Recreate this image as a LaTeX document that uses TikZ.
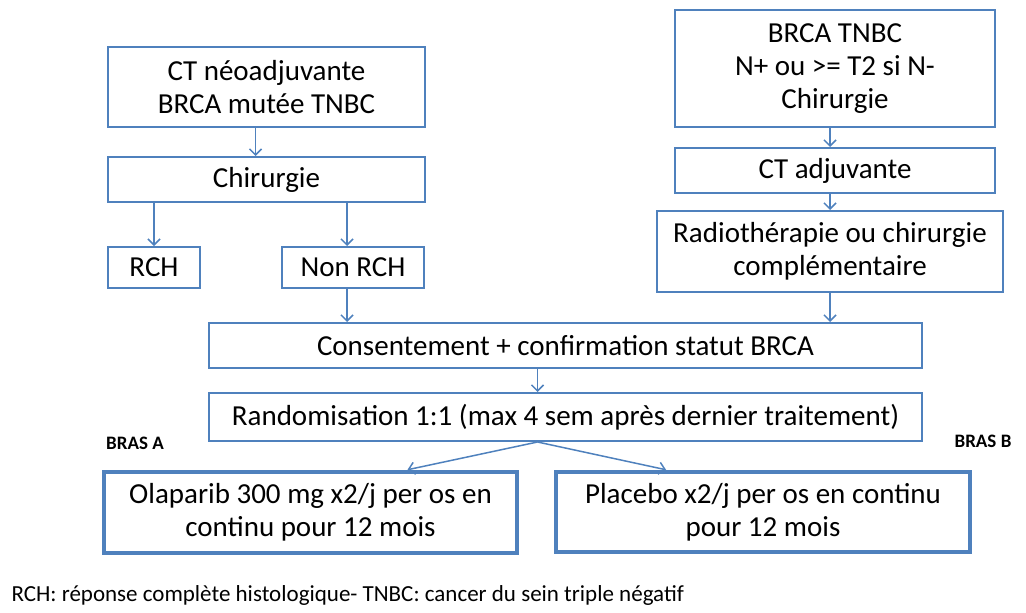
\documentclass[tikz,border=0pt]{standalone}
\usepackage{fontspec}
\setmainfont{Carlito}
\usepackage{xcolor}
\usetikzlibrary{arrows.meta, calc}

\definecolor{officeBlue}{HTML}{4F81BD}

\begin{document}
\begin{tikzpicture}[x = 1pt, y = -1pt,
		stepBox/.style = {draw = officeBlue, line width = 2pt, align = center, inner sep = 0pt, font = \fontsize{29}{33}\selectfont},
		armBox/.style = {stepBox, line width = 4.5pt},
		flowArrow/.style = {draw = officeBlue, line width = 1.5pt, -{Straight Barb[length = 6pt, width = 12pt]}},
		armLabel/.style = {font = \fontsize{19}{22}\selectfont\bfseries}]
					\def\picW{1026};
					\def\picH{613};
		
					% node from its left, top, right and bottom edges (in px)
					\newcommand{\drawStep}[6]
					{
						\node [#6, minimum width = #4 - #2, minimum height = #5 - #3] (#1) at ({(#2 + #4) / 2}, {(#3 + #5) / 2})
					}
		
					\useasboundingbox (0,0) rectangle (\picW,\picH);
		
					% left branch
					\begin{scope}
						\drawStep{ctNeo}{108}{47}{425}{127}{stepBox} {CT néoadjuvante\\BRCA mutée TNBC};
						\drawStep{chir}{108}{157}{425}{202}{stepBox} {Chirurgie};
						\drawStep{rch}{108}{247}{200}{288}{stepBox} {RCH};
						\drawStep{nonRch}{282}{247}{424}{288}{stepBox} {Non RCH};
					\end{scope}
		
					% right branch
					\begin{scope}
						\drawStep{brcaTnbc}{675}{10}{995}{127}{stepBox} {BRCA TNBC\\N+ ou >= T2 si N-\\Chirurgie};
						\drawStep{ctAdj}{675}{148}{995}{193}{stepBox} {CT adjuvante};
						\drawStep{radio}{657}{211}{1003}{292}{stepBox} {Radiothérapie ou chirurgie\\complémentaire};
					\end{scope}
		
					% common part
					\begin{scope}
						\drawStep{consent}{209}{323}{922}{368}{stepBox} {Consentement + confirmation statut BRCA};
						\drawStep{random}{209}{393}{922}{441}{stepBox} {Randomisation 1:1 (max 4 sem après dernier traitement)};
						\drawStep{olaparib}{104}{472}{517}{553}{armBox} {Olaparib 300 mg x2/j per os en\\continu pour 12 mois};
						\drawStep{placebo}{556}{472}{970}{552}{armBox} {Placebo x2/j per os en continu\\pour 12 mois};
						\node [armLabel] (brasA) at (135,443) {BRAS A};
						\node [armLabel] (brasB) at (983,441) {BRAS B};
					\end{scope}
		
					\node [anchor = west, font = \fontsize{23}{26}\selectfont] (footNote) at (8,595) {RCH: réponse complète histologique- TNBC: cancer du sein triple négatif};
		
					% arrows
					\coordinate (split) at ([xshift = -28pt]random.south);
					\draw [flowArrow] ([xshift = -11pt]ctNeo.south) -- ([xshift = -11pt]chir.north);
					\draw [flowArrow] (rch.north |- chir.south) -- (rch.north);
					\draw [flowArrow] ([xshift = -6pt]nonRch.north |- chir.south) -- ([xshift = -6pt]nonRch.north);
					\draw [flowArrow] ([xshift = -6pt]nonRch.south) -- ([xshift = -6pt]nonRch.south |- consent.north);
					\draw [flowArrow] ([xshift = -5pt]brcaTnbc.south) -- ([xshift = -5pt]ctAdj.north);
					\draw [flowArrow] ([xshift = -5pt]ctAdj.south) -- ([xshift = -5pt]ctAdj.south |- radio.north);
					\draw [flowArrow] (radio.south) -- (radio.south |- consent.north);
					\draw [flowArrow] ([xshift = -28pt]consent.south) -- ([xshift = -28pt]random.north);
					\draw [flowArrow] (split) -- ([xshift = 97pt]olaparib.north);
					\draw [flowArrow] (split) -- ([xshift = -97pt]placebo.north);
				\end{tikzpicture}
\end{document}
